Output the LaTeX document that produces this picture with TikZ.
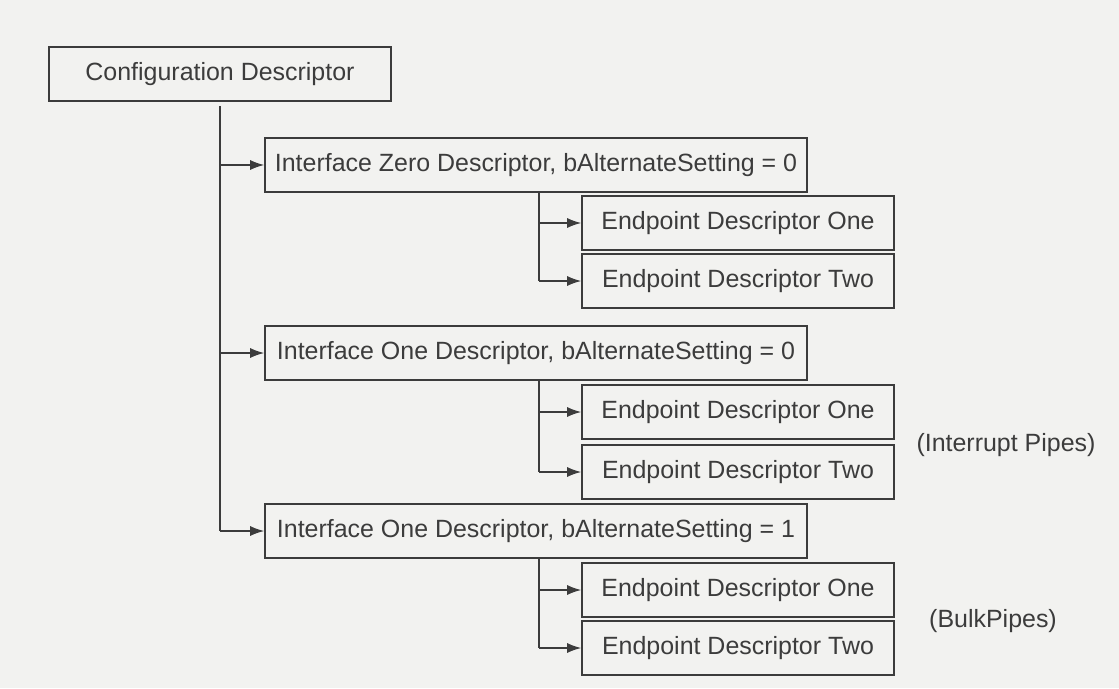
\documentclass[tikz,border=0pt]{standalone}
\usepackage{fontspec}
\setmainfont{Liberation Sans}
\usetikzlibrary{arrows.meta}
\definecolor{scangray}{HTML}{F2F2F0}
\definecolor{inkgray}{HTML}{3C3C3C}
\begin{document}
\begin{tikzpicture}[
  descbox/.style={draw=inkgray, line width=0.9pt, minimum height=1.08cm,
    inner sep=0pt, text=inkgray, font=\fontsize{14.2}{17}\selectfont},
  pipenote/.style={text=inkgray, font=\fontsize{14.2}{17}\selectfont},
  wire/.style={draw=inkgray, line width=0.8pt},
  link/.style={wire, -{Latex[length=0.28cm,width=0.2cm]}}]
  % helper grid: comment for final drawing
  % \draw[help lines,step=.5] (0,0) grid (22.38,13.76);
  \fill[scangray] (0,0) rectangle (22.38,13.76);
  \node[descbox, minimum width=6.85cm]  (cfg) at (4.40,12.28) {Configuration Descriptor};
  \node[descbox, minimum width=10.84cm] (ifZ) at (10.72,10.46) {Interface Zero Descriptor, bAlternateSetting = 0};
  \node[descbox, minimum width=10.84cm] (ifA) at (10.72,6.70)  {Interface One Descriptor, bAlternateSetting = 0};
  \node[descbox, minimum width=10.84cm] (ifB) at (10.72,3.14)  {Interface One Descriptor, bAlternateSetting = 1};
  \node[descbox, minimum width=6.24cm]  (ifZ1) at (14.76,9.30) {Endpoint Descriptor One};
  \node[descbox, minimum width=6.24cm]  (ifZ2) at (14.76,8.14) {Endpoint Descriptor Two};
  \node[descbox, minimum width=6.24cm]  (ifA1) at (14.76,5.52) {Endpoint Descriptor One};
  \node[descbox, minimum width=6.24cm]  (ifA2) at (14.76,4.32) {Endpoint Descriptor Two};
  \node[descbox, minimum width=6.24cm]  (ifB1) at (14.76,1.96) {Endpoint Descriptor One};
  \node[descbox, minimum width=6.24cm]  (ifB2) at (14.76,0.80) {Endpoint Descriptor Two};
  \node[pipenote] (intnote)  at (20.12,4.86) {(Interrupt Pipes)};
  \node[pipenote] (bulknote) at (19.86,1.34) {(BulkPipes)};
  % trunk from the configuration
  \draw[wire] ([yshift=-0.08cm]cfg.south) -- (cfg.south |- ifB.west);
  \foreach \n in {ifZ,ifA,ifB}
    \draw[link] (cfg.south |- \n.west) -- (\n.west);
  % branches to the endpoints
  \foreach \n in {ifZ,ifA,ifB}{
    \draw[wire] ([xshift=0.06cm]\n.south) -- ([xshift=0.06cm]\n.south |- \n2.west);
    \draw[link] ([xshift=0.06cm]\n.south |- \n1.west) -- (\n1.west);
    \draw[link] ([xshift=0.06cm]\n.south |- \n2.west) -- (\n2.west);
  }
\end{tikzpicture}
\end{document}
